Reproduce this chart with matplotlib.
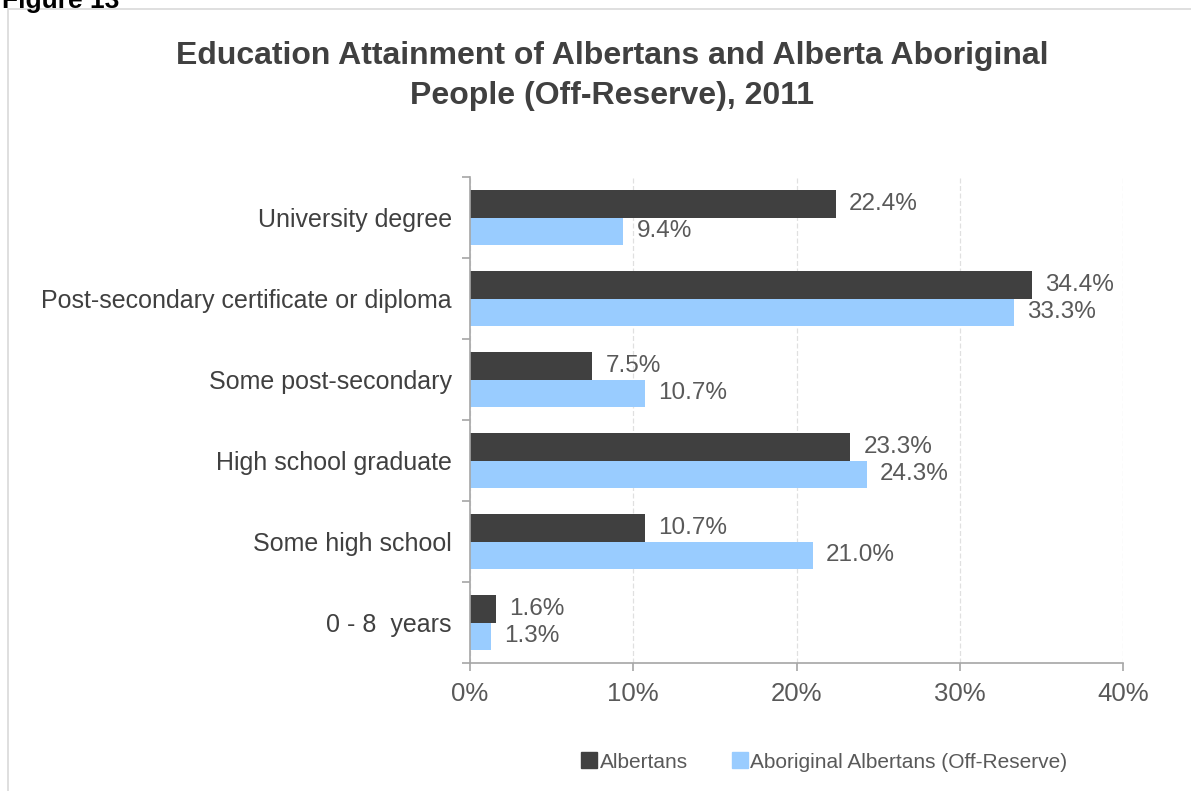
import matplotlib.pyplot as plt
import numpy as np
from matplotlib.patches import Rectangle
from matplotlib.lines import Line2D

categories = ["University degree", "Post-secondary certificate or diploma",
              "Some post-secondary", "High school graduate",
              "Some high school", "0 - 8  years"]
albertans = [22.4, 34.4, 7.5, 23.3, 10.7, 1.6]
aboriginal = [9.4, 33.3, 10.7, 24.3, 21.0, 1.3]
xticks = [0, 10, 20, 30, 40]

DARK = "#404040"
LIGHT = "#99ccff"
TEXT = "#404040"

plt.rcParams["font.family"] = ["Liberation Sans", "DejaVu Sans"]

fig = plt.figure(figsize=(11.91, 7.91), dpi=100)

# frame around the chart area
fig.add_artist(Rectangle((8 / 1191, -0.01), 1.1, 1 - 9 / 791 + 0.01,
                         transform=fig.transFigure, fill=False,
                         edgecolor="#d9d9d9", linewidth=1.2))
fig.text(2 / 1191, 1 - 8 / 791, "Figure 13", fontsize=19, fontweight="bold",
         color="black", ha="left", va="baseline")

ax = fig.add_axes([470 / 1191, 1 - 663 / 791, (1123 - 470) / 1191, (663 - 177) / 791])

y = np.arange(len(categories))
h = 0.34
ax.barh(y - h / 2, albertans, height=h, color=DARK)
ax.barh(y + h / 2, aboriginal, height=h, color=LIGHT)

for yi, v in zip(y, albertans):
    ax.text(v + 0.8, yi - h / 2, f"{v:.1f}%", va="center", ha="left",
            fontsize=17.5, color="#595959")
for yi, v in zip(y, aboriginal):
    ax.text(v + 0.8, yi + h / 2, f"{v:.1f}%", va="center", ha="left",
            fontsize=17.5, color="#595959")

ax.set_ylim(len(categories) - 0.5, -0.5)
ax.set_xlim(0, 40)
ax.set_xticks(xticks)
ax.set_xticklabels([f"{t}%" for t in xticks], fontsize=18.5, color="#595959")
ax.set_yticks(y)
ax.set_yticklabels(categories, fontsize=18, color=TEXT)
ax.tick_params(axis="y", length=0, pad=13)
ax.set_yticks(np.arange(-0.5, len(categories)), minor=True)
ax.tick_params(axis="y", which="minor", length=6, color="#a6a6a6", width=1.2)
ax.tick_params(axis="x", length=6, color="#a6a6a6", width=1.2, pad=8)

ax.grid(axis="x", color="#e0e0e0", linestyle=(0, (4, 2)), linewidth=0.9)
ax.set_axisbelow(True)
for s in ["top", "right"]:
    ax.spines[s].set_visible(False)
for s in ["left", "bottom"]:
    ax.spines[s].set_color("#a6a6a6")
    ax.spines[s].set_linewidth(1.2)

fig.text(612 / 1191, 1 - 76 / 791,
         "Education Attainment of Albertans and Alberta Aboriginal\nPeople (Off-Reserve), 2011",
         ha="center", va="center", fontsize=23, fontweight="bold", color=TEXT,
         linespacing=1.4)

handles = [Line2D([], [], marker="s", linestyle="", color=DARK, markersize=11),
           Line2D([], [], marker="s", linestyle="", color=LIGHT, markersize=11)]
fig.legend(handles, ["Albertans", "Aboriginal Albertans (Off-Reserve)"],
           loc="center", bbox_to_anchor=(823 / 1191, 1 - 762 / 791), ncol=2,
           frameon=False, fontsize=15, handletextpad=0.0, columnspacing=2.0,
           labelcolor="#595959", handlelength=1.0)

fig.savefig("out.png", dpi=100)
